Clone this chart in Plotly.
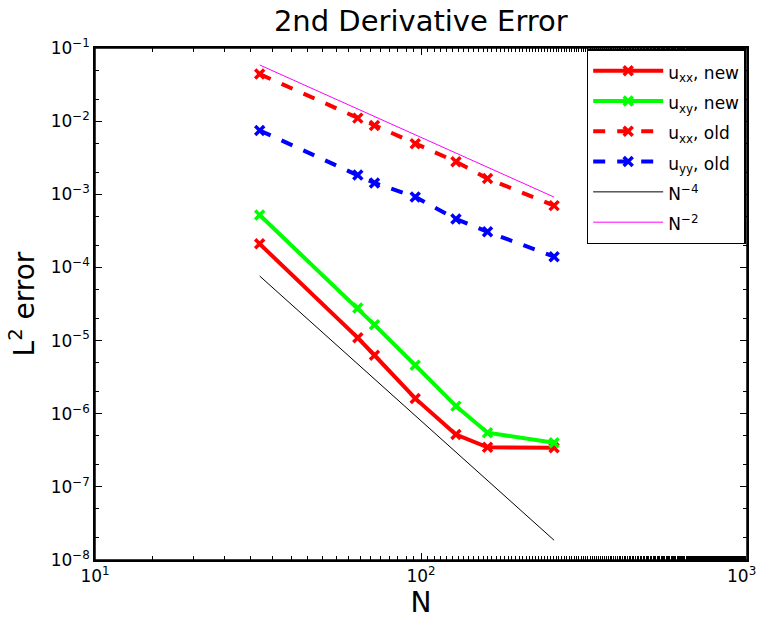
import plotly.graph_objects as go

N = [32, 64, 72, 96, 128, 160, 256]
uxx_new = [2.10e-4, 1.09e-5, 6.3e-6, 1.62e-6, 5.2e-7, 3.48e-7, 3.42e-7]
uxy_new = [5.2e-4, 2.79e-5, 1.64e-5, 4.6e-6, 1.27e-6, 5.5e-7, 4.0e-7]
uxx_old = [4.4e-2, 1.10e-2, 8.7e-3, 4.9e-3, 2.79e-3, 1.64e-3, 7.0e-4]
uyy_old = [7.46e-3, 1.84e-3, 1.43e-3, 9.2e-4, 4.6e-4, 3.07e-4, 1.40e-4]
ref_N = [32, 256]
c4 = 80.0
c2 = 60.0
ref4 = [c4 * n ** -4 for n in ref_N]
ref2 = [c2 * n ** -2 for n in ref_N]

xticks = [10, 100, 1000]
xtick_text = ["10<sup>1</sup>", "10<sup>2</sup>", "10<sup>3</sup>\u00a0\u00a0"]
yticks = [10.0 ** e for e in range(-8, 0)]
ytick_text = ["10<sup>\u2212%d</sup>" % (-e) for e in range(-8, 0)]

FONT = "DejaVu Sans, Liberation Sans, Arial, sans-serif"

fig = go.Figure()

def lg(t):
    return '<span style="font-size:17px">' + t + '</span>'

def data_trace(y, name, color, dash):
    return go.Scatter(
        x=N, y=y, name=lg(name), mode="lines+markers",
        line=dict(color=color, width=4, dash=dash),
        marker=dict(symbol="x-thin", size=9, color=color,
                    line=dict(color=color, width=3.5)),
    )

fig.add_trace(data_trace(uxx_new, "u<sub>xx</sub>, new", "#ff0000", "solid"))
fig.add_trace(data_trace(uxy_new, "u<sub>xy</sub>, new", "#00ff00", "solid"))
fig.add_trace(data_trace(uxx_old, "u<sub>xx</sub>, old", "#ff0000", "dash"))
fig.add_trace(data_trace(uyy_old, "u<sub>yy</sub>, old", "#0000ff", "dash"))
fig.add_trace(go.Scatter(x=ref_N, y=ref4, name=lg("N<sup>\u22124</sup>"), mode="lines",
                         line=dict(color="black", width=1)))
fig.add_trace(go.Scatter(x=ref_N, y=ref2, name=lg("N<sup>\u22122</sup>"), mode="lines",
                         line=dict(color="#ff00ff", width=1)))

axis_common = dict(
    showline=True, linecolor="black", linewidth=1.5, mirror="allticks",
    ticks="inside", ticklen=7, tickcolor="black", showgrid=False, zeroline=False,
    minor=dict(ticks="inside", ticklen=4, tickcolor="black", showgrid=False),
    tickfont=dict(family=FONT, size=17, color="black"),
    ticklabeloverflow="allow", automargin=False,
)

fig.update_xaxes(type="log", range=[1, 3], tickvals=xticks, ticktext=xtick_text,
                 title=dict(text="N", font=dict(family=FONT, size=28, color="black"), standoff=4),
                 **axis_common)
fig.update_yaxes(type="log", range=[-8, -1], tickvals=yticks, ticktext=ytick_text,
                 title=dict(text="L<sup>2</sup> error", font=dict(family=FONT, size=28, color="black"), standoff=8),
                 **axis_common)

fig.add_shape(type="rect", xref="paper", yref="paper", x0=0, y0=0, x1=1, y1=1,
              line=dict(color="black", width=1.5), layer="above")

fig.update_layout(
    width=761, height=622,
    margin=dict(l=95, r=14, t=48, b=62, autoexpand=False),
    paper_bgcolor="white", plot_bgcolor="white",
    font=dict(family=FONT, color="black"),
    title=dict(text="2nd Derivative Error", x=0.553, xanchor="center", y=0.967, yanchor="middle",
               font=dict(family=FONT, size=29, color="black")),
    legend=dict(x=0.998, y=0.998, xanchor="right", yanchor="top",
                bordercolor="black", borderwidth=1.5, bgcolor="white",
                font=dict(family=FONT, size=21, color="black"), tracegroupgap=0,
                itemwidth=70),
    showlegend=True,
)

fig.write_html("out.html")
